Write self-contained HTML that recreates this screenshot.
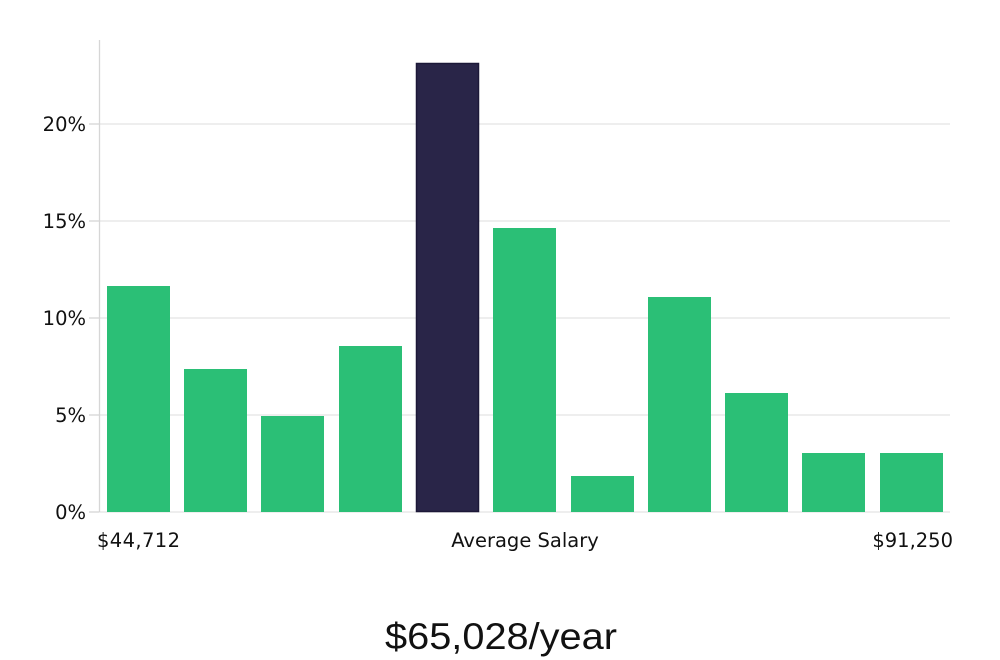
<!DOCTYPE html>
<html><head><meta charset="utf-8"><style>
html,body{margin:0;padding:0;background:#fff;}
svg{display:block;}
text{font-family:"DejaVu Sans","Liberation Sans",sans-serif;fill:#111;}
</style></head><body>
<svg width="1000" height="660" viewBox="0 0 1000 660">
<g stroke="#e3e3e3" stroke-width="1.3">
<line x1="99" y1="124" x2="950" y2="124"/>
<line x1="99" y1="221" x2="950" y2="221"/>
<line x1="99" y1="318" x2="950" y2="318"/>
<line x1="99" y1="415" x2="950" y2="415"/>
<line x1="99" y1="512" x2="950" y2="512"/>
</g>
<g stroke="#d6d6d6" stroke-width="1.3">
<line x1="99.5" y1="40" x2="99.5" y2="512"/>
<line x1="89" y1="124" x2="99" y2="124"/>
<line x1="89" y1="221" x2="99" y2="221"/>
<line x1="89" y1="318" x2="99" y2="318"/>
<line x1="89" y1="415" x2="99" y2="415"/>
<line x1="89" y1="512" x2="99" y2="512"/>
</g>
<g font-size="19.5" text-anchor="end">
<text x="86" y="131">20%</text>
<text x="86" y="228">15%</text>
<text x="86" y="325">10%</text>
<text x="86" y="422">5%</text>
<text x="86" y="519">0%</text>
</g>
<g fill="#2bbf76">
<rect x="107" y="286" width="63" height="226"/>
<rect x="184" y="369" width="63" height="143"/>
<rect x="261" y="416" width="63" height="96"/>
<rect x="339" y="346" width="63" height="166"/>
<rect x="493" y="228" width="63" height="284"/>
<rect x="571" y="476" width="63" height="36"/>
<rect x="648" y="297" width="63" height="215"/>
<rect x="725" y="393" width="63" height="119"/>
<rect x="802" y="453" width="63" height="59"/>
<rect x="880" y="453" width="63" height="59"/>
</g>
<rect x="416.5" y="63.5" width="62" height="448" fill="#292548" stroke="#1c1838" stroke-width="1.5"/>
<g font-size="19.5">
<text x="97" y="547" textLength="83">$44,712</text>
<text x="525" y="547" text-anchor="middle">Average Salary</text>
<text x="953" y="547" text-anchor="end">$91,250</text>
</g>
<text x="385" y="649" font-size="37" textLength="232" lengthAdjust="spacingAndGlyphs" style="font-family:'Liberation Sans Narrow','Liberation Sans',sans-serif;">$65,028/year</text>
</svg>
</body></html>
